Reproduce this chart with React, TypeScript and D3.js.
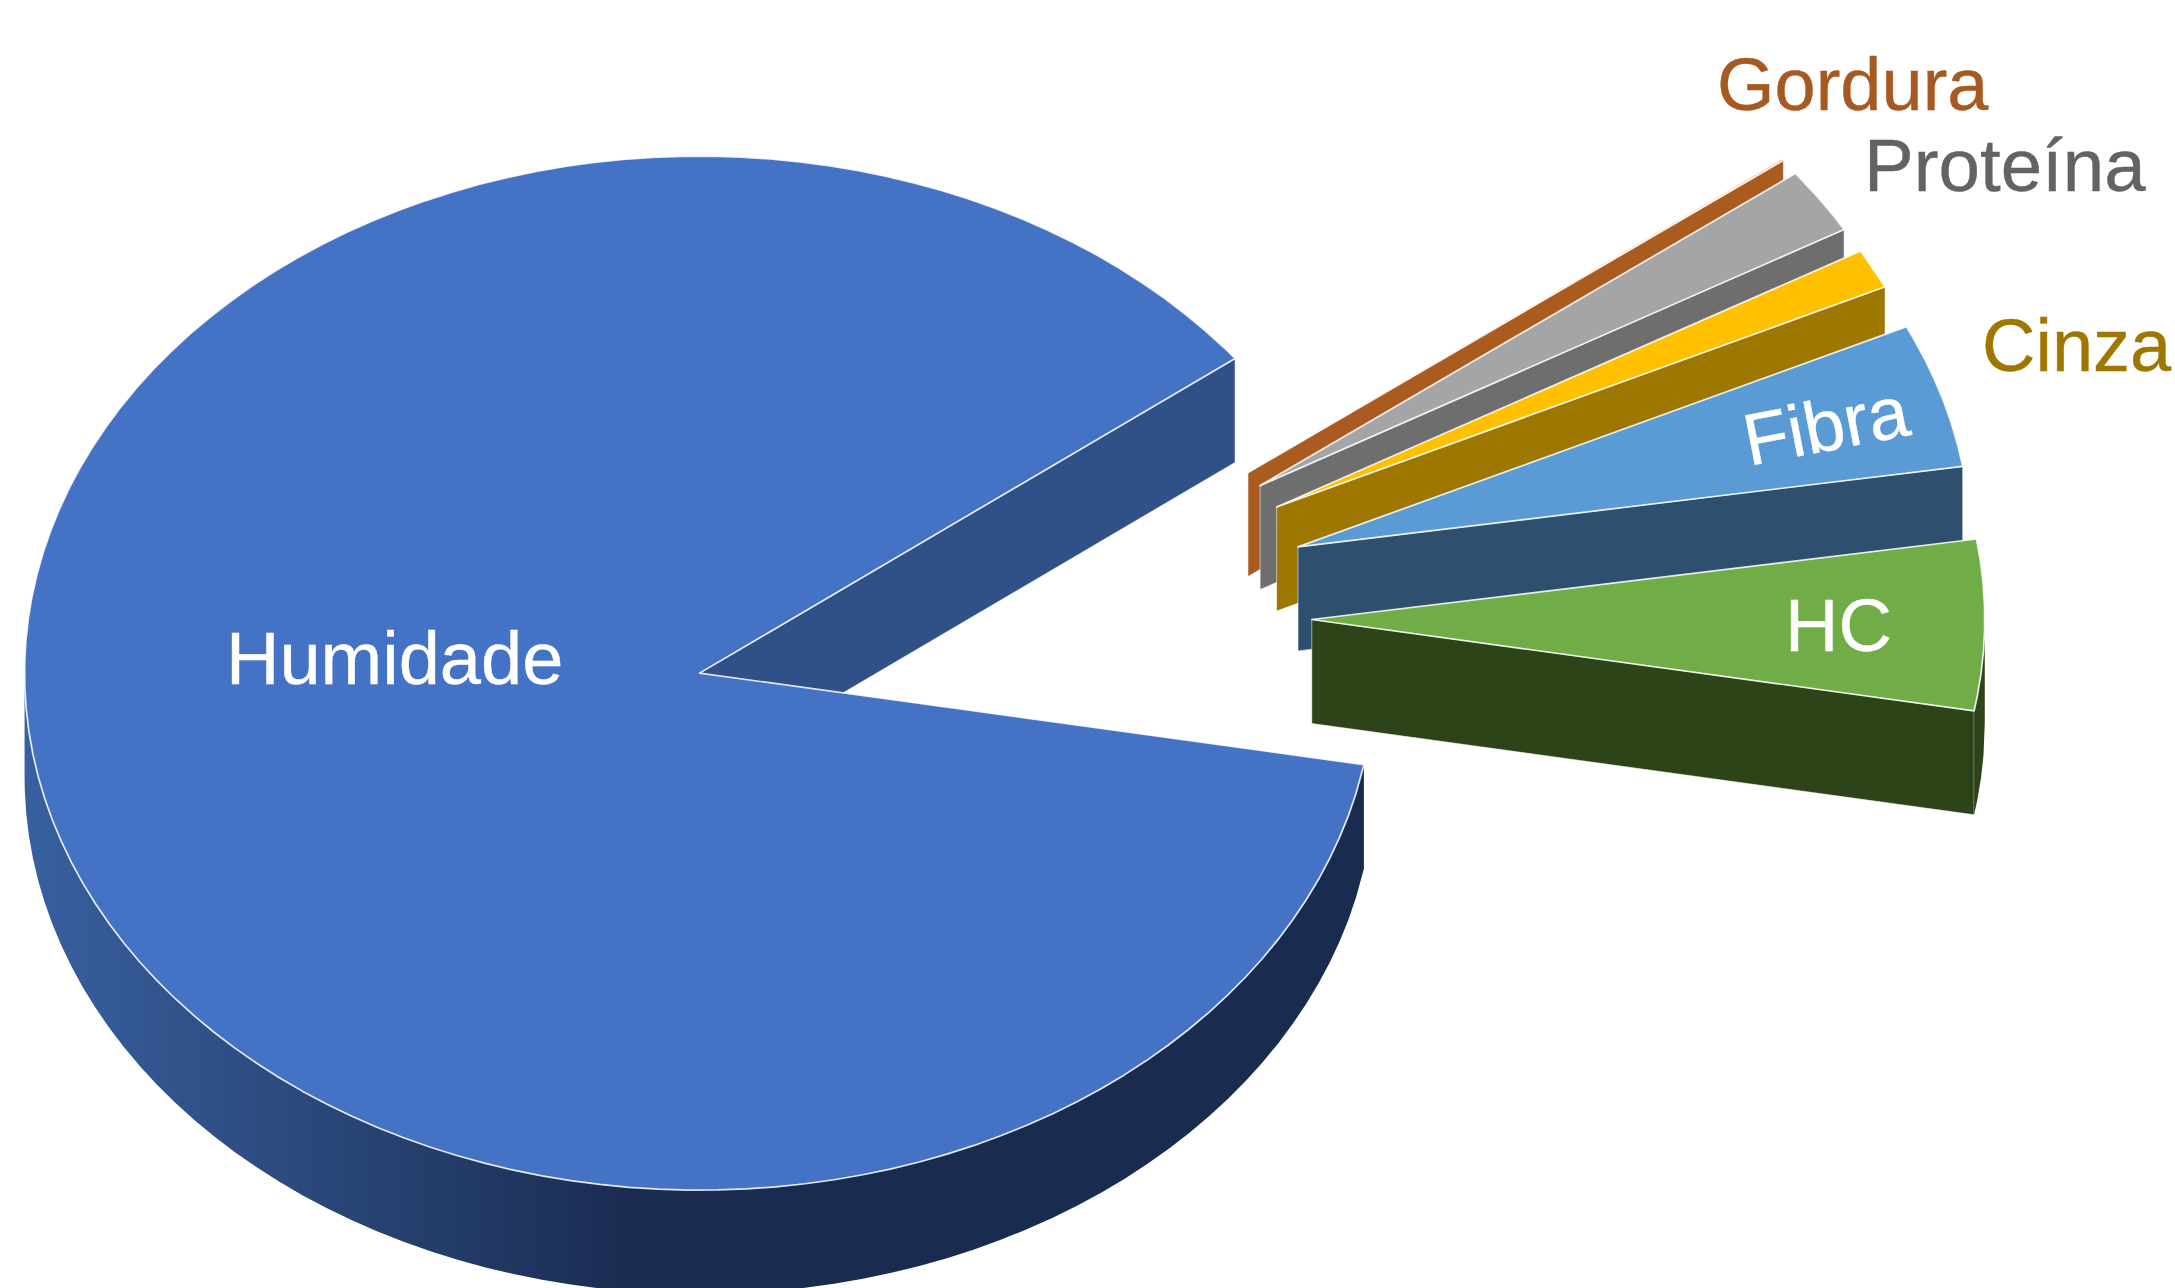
import React from "react";
import * as d3 from "d3";

// Share of each component, in percent, going clockwise from the lower cut of the big slice.
const categories = ["Humidade", "Gordura", "Proteína", "Cinza", "Fibra", "HC"];
const shares = [86.75, 0.06, 2.08, 1.25, 4.53, 5.33];

const topColors = ["#4472c4", "#ed7d31", "#a5a5a5", "#ffc000", "#5b9bd5", "#70ad47"];
const wallColors = ["#2f5188", "#a95b20", "#6e6e6e", "#9e7700", "#2e4f6e", "#2d4419"];

const WIDTH = 2175;
const HEIGHT = 1288;
const CX = 1001.3;
const CY = 617;
const RX = 675;
const RY = 517;
const DEPTH = 104;
const EXPLODE = 0.46;
const FIRST_ANGLE = (100.2 * Math.PI) / 180;
const DEG = Math.PI / 180;
const FACET = 2.5 * DEG;
const FACET_PHASE = 1 * DEG;
// The pulled-out slices sit very slightly inside the big slice's radius.
const SMALL_SLICE_SCALE = 0.997;

const FONT = '"Liberation Sans", Arial, sans-serif';

type LabelStyle = { x: number; y: number; size: number; fill: string; rotate?: number };

const labelStyles: Record<string, LabelStyle> = {
  Humidade: { x: 226, y: 684, size: 74, fill: "#ffffff" },
  HC: { x: 1785, y: 651, size: 74, fill: "#ffffff" },
  Fibra: { x: 1749, y: 466, size: 73, fill: "#ffffff", rotate: -10.9 },
  Cinza: { x: 1982, y: 371, size: 74, fill: "#9e7700" },
  Proteína: { x: 1864, y: 191, size: 74.5, fill: "#636363" },
  Gordura: { x: 1717, y: 110, size: 74, fill: "#a65a22" },
};

const pieLayout = d3
  .pie<number>()
  .sort(null)
  .startAngle(FIRST_ANGLE)
  .endAngle(FIRST_ANGLE + 2 * Math.PI);

const linePath = d3
  .line<[number, number]>()
  .x((p) => p[0])
  .y((p) => p[1])
  .curve(d3.curveLinear);

// Rim angles from t0 to t1: both ends, plus regular facet vertices well clear of the ends.
function sweep(t0: number, t1: number): number[] {
  const clearance = FACET / 2;
  const first = Math.ceil((t0 + clearance - FACET_PHASE) / FACET);
  const inner: number[] = [];
  for (let k = first; FACET_PHASE + k * FACET < t1 - clearance; k++) {
    inner.push(FACET_PHASE + k * FACET);
  }
  return [t0, ...inner, t1];
}

export default function App() {
  const arcs = pieLayout(shares);

  const slices = arcs.map((arc, i) => {
    // Pie angles start at north; the ellipse parameter starts at east.
    const t0 = arc.startAngle - Math.PI / 2;
    const t1 = arc.endAngle - Math.PI / 2;
    const mid = (t0 + t1) / 2;
    const ox = CX + RX * EXPLODE * Math.cos(mid);
    const oy = CY + RY * EXPLODE * Math.sin(mid);
    const k = i === 0 ? 1 : SMALL_SLICE_SCALE;
    const rim = (t: number): [number, number] => [
      ox + k * RX * Math.cos(t),
      oy + k * RY * Math.sin(t),
    ];

    const tip: [number, number] = [ox, oy];
    const top = [tip, ...sweep(t0, t1).map(rim)];

    // Cut face on the clockwise edge, the one turned towards the viewer.
    const endPoint = rim(t1);
    const cutFace: [number, number][] = [
      tip,
      endPoint,
      [endPoint[0], endPoint[1] + DEPTH],
      [tip[0], tip[1] + DEPTH],
    ];

    // Rim face: only the stretch along the lower half of the ellipse can be seen.
    const rimRanges: [number, number][] = [
      [0, Math.PI],
      [2 * Math.PI, 3 * Math.PI],
    ];
    const rimFaces = rimRanges
      .map(([a, b]) => [Math.max(a, t0), Math.min(b, t1)])
      .filter(([a, b]) => b > a)
      .map(([a, b]) => {
        const edge = sweep(a, b).map(rim);
        const lowered = edge
          .map(([x, y]) => [x, y + DEPTH] as [number, number])
          .reverse();
        return [...edge, ...lowered];
      });

    return {
      name: categories[i],
      top,
      cutFace,
      rimFaces,
      topFill: topColors[i],
      wallFill: wallColors[i],
      rimFill: i === 0 ? "url(#rimShade)" : wallColors[i],
    };
  });

  return (
    <svg
      width={WIDTH}
      height={HEIGHT}
      viewBox={`0 0 ${WIDTH} ${HEIGHT}`}
      style={{ position: "absolute", left: 0, top: 0, background: "#ffffff" }}
    >
      <defs>
        <linearGradient id="rimShade" gradientUnits="userSpaceOnUse" x1="25" y1="0" x2="640" y2="0">
          <stop offset="0" stopColor="#38609f" />
          <stop offset="0.5" stopColor="#294678" />
          <stop offset="1" stopColor="#1a2b50" />
        </linearGradient>
      </defs>

      {slices.map((s) => (
        <g key={s.name}>
          <path
            d={linePath(s.cutFace) + "Z"}
            fill={s.wallFill}
            stroke="#ffffff"
            strokeOpacity={0.55}
            strokeWidth={1}
          />
          {s.rimFaces.map((face, j) => (
            <path key={j} d={linePath(face as [number, number][]) + "Z"} fill={s.rimFill} />
          ))}
          <path
            d={linePath(s.top as [number, number][]) + "Z"}
            fill={s.topFill}
            stroke="#ffffff"
            strokeOpacity={0.85}
            strokeWidth={1.7}
            strokeLinejoin="round"
          />
        </g>
      ))}

      {categories.map((name) => {
        const l = labelStyles[name];
        return (
          <text
            key={name}
            x={l.x}
            y={l.y}
            fontFamily={FONT}
            fontSize={l.size}
            fill={l.fill}
            stroke={l.fill}
            strokeWidth={0.4}
            transform={l.rotate ? `rotate(${l.rotate} ${l.x} ${l.y})` : undefined}
          >
            {name}
          </text>
        );
      })}
    </svg>
  );
}
